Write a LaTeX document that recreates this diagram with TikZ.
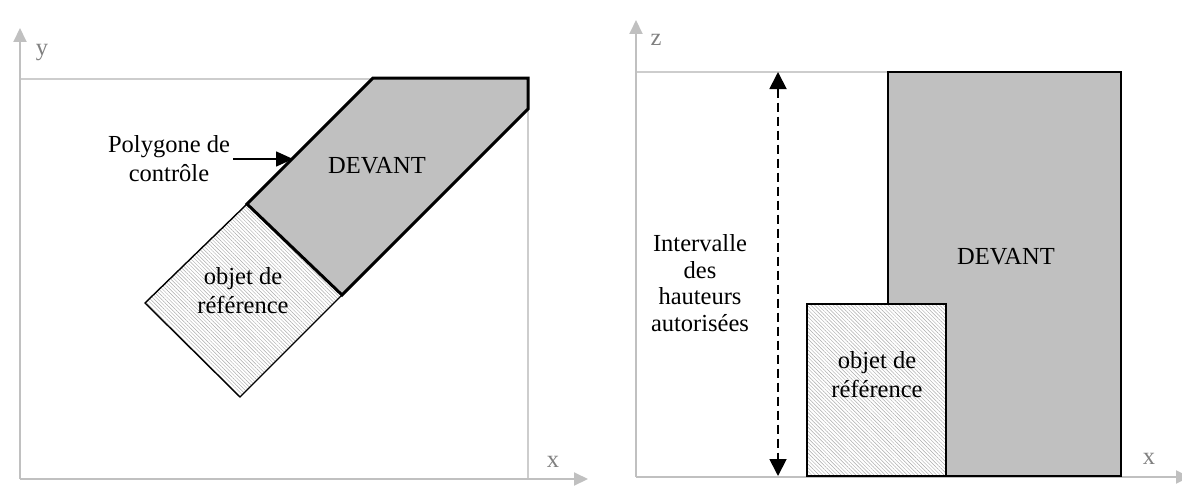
\documentclass[tikz,border=0pt]{standalone}
\usepackage{fontspec}
\setmainfont{Liberation Serif}
\usepackage{tikz}
\usetikzlibrary{arrows.meta,patterns.meta}
\definecolor{axisgray}{RGB}{192, 192, 192}
\definecolor{framegray}{RGB}{205, 205, 205}
\definecolor{devantgray}{RGB}{192, 192, 192}
\definecolor{hatchgray}{RGB}{170, 170, 170}
\tikzset{
 axisline/.style={
 draw=axisgray,
 line width=2pt,
 -{Triangle[length=14pt,width=13pt]}
 },
 frameline/.style={
 draw=framegray,
 line width=1.6pt
 },
 devant/.style={
 fill=devantgray,
 draw=black,
 line width=1.2pt,
 line join=miter
 },
 ctrlpoly/.style={
 draw=black,
 line width=3pt,
 line join=miter
 },
 refobj/.style={
 pattern={Lines[angle=-45,distance=2.6pt,line width=0.45pt]},
 pattern color=hatchgray,
 draw=black,
 line width=1.4pt
 },
 lbl/.style={
 align=center,
 font=\fontsize{24.5}{29}\selectfont,
 inner sep=3pt
 },
 axislbl/.style={
 text=gray,
 font=\fontsize{24.5}{29}\selectfont,
 inner sep=0pt
 },
 ctrlarrow/.style={-{Triangle[length=17pt,width=15pt]}, line width=1.6pt, draw=black},
 intervalarrow/.style={{Triangle[length=17pt,width=17pt]}-{Triangle[length=17pt,width=17pt]}, line width=1.8pt, draw=black, dash pattern=on 9pt off 5pt}
}

\begin{document}
\begin{tikzpicture}[x=1pt,y=-1pt]
 \useasboundingbox (0,0) rectangle (1182,487);

 % vue de dessus
 \coordinate (o1) at (20,479);
 \coordinate (y1) at (20,28);
 \coordinate (x1) at (588,479);
 \draw[frameline] (20,79) -- (528,79) -- (528,479);
 \draw[axisline] (o1) -- (y1);
 \draw[axisline] (o1) -- (x1);
 \node[axislbl] (ylab) at (42,53) {y};
 \node[axislbl] (xlab1) at (553,462) {x};

 \draw[devant] (247,204) -- (373,78) -- (528,78) -- (528,109) -- (342,295) -- cycle;
 \draw[refobj] (247,204) -- (342,295) -- (240,397) -- (145,303) -- cycle;
 \draw[ctrlpoly] (247,204) -- (373,78) -- (528,78) -- (528,109) -- (342,295) -- cycle;

 \node[lbl] (devant1) at (377,166) {DEVANT};
 \node[lbl] (ref1) at (243,291) {objet de\\référence};
 \node[lbl] (ctrl) at (169,159) {Polygone de\\contrôle};
 \coordinate (ctrltip) at (293,159);
 \draw[ctrlarrow] (ctrl.east) -- (ctrltip);

 % vue de face
 \coordinate (o2) at (636,477);
 \coordinate (z2) at (636,20);
 \coordinate (x2) at (1190,477);
 \draw[frameline] (636,72) -- (890,72);
 \draw[axisline] (o2) -- (z2);
 \draw[axisline] (o2) -- (x2);
 \node[axislbl] (zlab) at (656,40) {z};
 \node[axislbl] (xlab2) at (1149,459) {x};

 \draw[devant] (888,72) rectangle (1121,476);
 \draw[refobj, fill=white] (807,304) rectangle (946,476);
 \draw[refobj] (807,304) rectangle (946,476);

 \node[lbl] (devant2) at (1006,257) {DEVANT};
 \node[lbl] (ref2) at (877,375) {objet de\\référence};
 \node[lbl, font=\fontsize{24.5}{26.5}\selectfont] (interval) at (700,283) {Intervalle\\des\\hauteurs\\autorisées};
 \coordinate (ztop) at (778,72);
 \coordinate (zbot) at (778,476);
 \draw[intervalarrow] (ztop) -- (zbot);
\end{tikzpicture}
\end{document}
